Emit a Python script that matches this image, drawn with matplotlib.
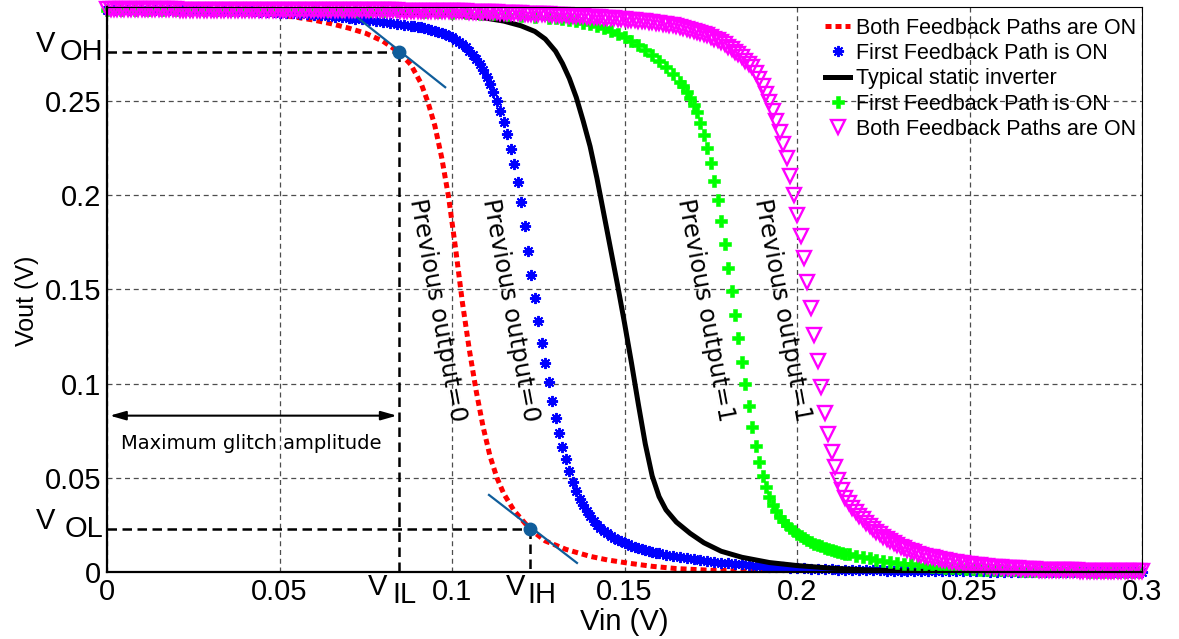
import numpy as np
import matplotlib.pyplot as plt

SANS = 'Liberation Sans'

# switching points
v_il, v_ih = 0.0846, 0.1226
v_oh, v_ol = 0.276, 0.0228

# both feedback paths ON, previous output = 0 (red dotted)
red_vin = [0.000, 0.010, 0.020, 0.030, 0.040, 0.045, 0.050, 0.055, 0.060, 0.065,
           0.070, 0.075, 0.080, 0.0846, 0.088, 0.091, 0.093, 0.095, 0.097, 0.099,
           0.101, 0.103, 0.105, 0.107, 0.109, 0.111, 0.113, 0.115, 0.118, 0.1226,
           0.127, 0.133, 0.140, 0.145, 0.151, 0.158, 0.165, 0.175, 0.190, 0.220, 0.300]
red_vout = [0.2990, 0.2989, 0.2986, 0.2981, 0.2973, 0.2966, 0.2957, 0.2945, 0.2930, 0.2911,
            0.2888, 0.2860, 0.2818, 0.2760, 0.2695, 0.2595, 0.2495, 0.2370, 0.2200, 0.1990,
            0.1720, 0.1430, 0.1180, 0.0960, 0.0770, 0.0615, 0.0500, 0.0415, 0.0325, 0.0228,
            0.0165, 0.0120, 0.0083, 0.0064, 0.0047, 0.0030, 0.0018, 0.0009, 0.0004, 0.0001, 0.0000]

# first feedback path ON, previous output = 0 (blue stars)
blue_vin = np.concatenate([np.linspace(0, 0.086, 44), np.linspace(0.088, 0.160, 73),
                           np.linspace(0.162, 0.300, 70)])
blue_vout = [
    0.2985, 0.2985, 0.2985, 0.2985, 0.2985, 0.2985, 0.2984, 0.2984, 0.2984, 0.2984,
    0.2983, 0.2983, 0.2983, 0.2982, 0.2982, 0.2981, 0.2981, 0.2980, 0.2979, 0.2978,
    0.2977, 0.2976, 0.2975, 0.2973, 0.2972, 0.2970, 0.2968, 0.2966, 0.2964, 0.2961,
    0.2958, 0.2955, 0.2952, 0.2949, 0.2946, 0.2942, 0.2938, 0.2934, 0.2930, 0.2926,
    0.2921, 0.2916, 0.2911, 0.2906,
    0.2900, 0.2897, 0.2894, 0.2891, 0.2887, 0.2883, 0.2879, 0.2874, 0.2868, 0.2862,
    0.2855, 0.2847, 0.2838, 0.2827, 0.2815, 0.2801, 0.2785, 0.2767, 0.2746, 0.2722,
    0.2695, 0.2664, 0.2630, 0.2592, 0.2550, 0.2503, 0.2450, 0.2390, 0.2323, 0.2248,
    0.2165, 0.2070, 0.1965, 0.1835, 0.1705, 0.1578, 0.1453, 0.1333, 0.1218, 0.1110,
    0.1007, 0.0910, 0.0820, 0.0738, 0.0663, 0.0598, 0.0535, 0.0480, 0.0432, 0.0390,
    0.0353, 0.0322, 0.0295, 0.0272, 0.0252, 0.0234, 0.0219, 0.0205, 0.0193, 0.0182,
    0.0172, 0.0163, 0.0155, 0.0147, 0.0140, 0.0134, 0.0128, 0.0122, 0.0117, 0.0112,
    0.0107, 0.0103, 0.0099,
    0.0092, 0.0085, 0.0079, 0.0073, 0.0068, 0.0063, 0.0058, 0.0054, 0.0050, 0.0046,
    0.0043, 0.0040, 0.0037, 0.0034, 0.0031, 0.0029, 0.0027, 0.0025, 0.0023, 0.0021,
    0.0019, 0.0018, 0.0016, 0.0015, 0.0014, 0.0013, 0.0012, 0.0011, 0.0010, 0.0009,
    0.0009, 0.0008, 0.0007, 0.0007, 0.0006, 0.0006, 0.0005, 0.0005, 0.0005, 0.0004,
    0.0004, 0.0004, 0.0003, 0.0003, 0.0003, 0.0003, 0.0003, 0.0002, 0.0002, 0.0002,
    0.0002, 0.0002, 0.0002, 0.0002, 0.0001, 0.0001, 0.0001, 0.0001, 0.0001, 0.0001,
    0.0001, 0.0001, 0.0001, 0.0001, 0.0001, 0.0001, 0.0001, 0.0001, 0.0001, 0.0001]

# typical static inverter (black)
inv_vin = [0.000, 0.040, 0.070, 0.090, 0.100, 0.110, 0.115, 0.120, 0.124, 0.127,
           0.130, 0.132, 0.134, 0.136, 0.138, 0.140, 0.142, 0.144, 0.146, 0.148,
           0.150, 0.152, 0.154, 0.156, 0.158, 0.160, 0.162, 0.165, 0.169, 0.173,
           0.178, 0.184, 0.192, 0.200, 0.210, 0.220, 0.235, 0.260, 0.300]
inv_vout = [0.2990, 0.2987, 0.2980, 0.2968, 0.2958, 0.2940, 0.2925, 0.2900, 0.2870, 0.2830,
            0.2765, 0.2700, 0.2620, 0.2520, 0.2395, 0.2260, 0.2090, 0.1900, 0.1710, 0.1520,
            0.1320, 0.1110, 0.0890, 0.0680, 0.0510, 0.0400, 0.0330, 0.0265, 0.0205, 0.0155,
            0.0110, 0.0078, 0.0050, 0.0034, 0.0020, 0.0011, 0.0004, 0.0001, 0.0000]

# first feedback path ON, previous output = 1 (green plus)
green_vin = np.concatenate([np.linspace(0, 0.128, 33), np.linspace(0.130, 0.166, 19),
                            np.linspace(0.167, 0.215, 49), np.linspace(0.217, 0.299, 42)])
green_vout = [
    0.2985, 0.2985, 0.2985, 0.2985, 0.2985, 0.2985, 0.2985, 0.2984, 0.2984, 0.2984,
    0.2984, 0.2983, 0.2983, 0.2983, 0.2982, 0.2982, 0.2981, 0.2981, 0.2980, 0.2979,
    0.2978, 0.2977, 0.2976, 0.2974, 0.2972, 0.2970, 0.2967, 0.2964, 0.2961, 0.2957,
    0.2953, 0.2948, 0.2943,
    0.2940, 0.2935, 0.2929, 0.2923, 0.2916, 0.2908, 0.2898, 0.2886, 0.2872, 0.2857,
    0.2840, 0.2820, 0.2797, 0.2772, 0.2745, 0.2715, 0.2682, 0.2645, 0.2603,
    0.2578, 0.2550, 0.2518, 0.2482, 0.2440, 0.2385, 0.2320, 0.2250, 0.2170, 0.2078,
    0.1975, 0.1862, 0.1740, 0.1615, 0.1490, 0.1365, 0.1240, 0.1117, 0.0997, 0.0880,
    0.0770, 0.0670, 0.0583, 0.0510, 0.0450, 0.0400, 0.0358, 0.0323, 0.0294, 0.0270,
    0.0249, 0.0231, 0.0215, 0.0201, 0.0189, 0.0178, 0.0168, 0.0159, 0.0151, 0.0143,
    0.0136, 0.0129, 0.0123, 0.0117, 0.0112, 0.0107, 0.0102, 0.0098, 0.0094,
    0.0087, 0.0080, 0.0073, 0.0066, 0.0060, 0.0054, 0.0049, 0.0044, 0.0040, 0.0036,
    0.0032, 0.0029, 0.0026, 0.0023, 0.0021, 0.0019, 0.0017, 0.0015, 0.0013, 0.0012,
    0.0011, 0.0010, 0.0009, 0.0008, 0.0007, 0.0006, 0.0006, 0.0005, 0.0005, 0.0004,
    0.0004, 0.0003, 0.0003, 0.0003, 0.0002, 0.0002, 0.0002, 0.0002, 0.0001, 0.0001,
    0.0001, 0.0001]

# both feedback paths ON, previous output = 1 (magenta triangles), 1 mV steps
mag_vin = np.linspace(0, 0.300, 301)
mag_vout = [
    0.2987, 0.2987, 0.2987, 0.2987, 0.2987, 0.2987, 0.2987, 0.2987, 0.2987, 0.2987,
    0.2987, 0.2987, 0.2987, 0.2987, 0.2987, 0.2987, 0.2987, 0.2987, 0.2987, 0.2987,
    0.2987, 0.2986, 0.2986, 0.2986, 0.2986, 0.2986, 0.2986, 0.2986, 0.2986, 0.2986,
    0.2986, 0.2986, 0.2986, 0.2986, 0.2986, 0.2986, 0.2986, 0.2986, 0.2986, 0.2986,
    0.2986, 0.2985, 0.2985, 0.2985, 0.2985, 0.2985, 0.2985, 0.2985, 0.2985, 0.2985,
    0.2985, 0.2985, 0.2985, 0.2985, 0.2985, 0.2985, 0.2985, 0.2984, 0.2984, 0.2984,
    0.2984, 0.2984, 0.2984, 0.2984, 0.2984, 0.2984, 0.2984, 0.2984, 0.2984, 0.2983,
    0.2983, 0.2983, 0.2983, 0.2983, 0.2983, 0.2983, 0.2983, 0.2982, 0.2982, 0.2982,
    0.2982, 0.2982, 0.2982, 0.2982, 0.2982, 0.2981, 0.2981, 0.2981, 0.2981, 0.2981,
    0.2980, 0.2980, 0.2980, 0.2980, 0.2979, 0.2979, 0.2979, 0.2978, 0.2978, 0.2978,
    0.2977, 0.2977, 0.2977, 0.2976, 0.2976, 0.2975, 0.2975, 0.2974, 0.2974, 0.2973,
    0.2973, 0.2972, 0.2972, 0.2971, 0.2970, 0.2970, 0.2969, 0.2968, 0.2967, 0.2967,
    0.2966, 0.2965, 0.2964, 0.2964, 0.2963, 0.2962, 0.2961, 0.2960, 0.2960, 0.2959,
    0.2958, 0.2957, 0.2956, 0.2955, 0.2954, 0.2953, 0.2952, 0.2951, 0.2950, 0.2949,
    0.2948, 0.2947, 0.2946, 0.2945, 0.2944, 0.2942, 0.2941, 0.2940, 0.2938, 0.2937,
    0.2935, 0.2933, 0.2932, 0.2930, 0.2928, 0.2926, 0.2924, 0.2922, 0.2919, 0.2917,
    0.2914, 0.2911, 0.2908, 0.2905, 0.2902, 0.2898, 0.2894, 0.2890, 0.2885, 0.2880,
    0.2875, 0.2869, 0.2863, 0.2856, 0.2849, 0.2841, 0.2832, 0.2823, 0.2813, 0.2802,
    0.2790, 0.2777, 0.2763, 0.2748, 0.2732, 0.2715, 0.2698, 0.2680, 0.2650, 0.2617,
    0.2580, 0.2540, 0.2497, 0.2450, 0.2395, 0.2335, 0.2272, 0.2200, 0.2100, 0.2000,
    0.1895, 0.1782, 0.1665, 0.1538, 0.1400, 0.1260, 0.1120, 0.0980, 0.0845, 0.0730,
    0.0635, 0.0557, 0.0490, 0.0435, 0.0395, 0.0365, 0.0340, 0.0318, 0.0298, 0.0279,
    0.0261, 0.0244, 0.0228, 0.0213, 0.0199, 0.0186, 0.0174, 0.0163, 0.0153, 0.0143,
    0.0134, 0.0126, 0.0118, 0.0111, 0.0104, 0.0098, 0.0092, 0.0087, 0.0082, 0.0077,
    0.0073, 0.0069, 0.0065, 0.0061, 0.0058, 0.0055, 0.0052, 0.0049, 0.0046, 0.0044,
    0.0041, 0.0039, 0.0037, 0.0035, 0.0033, 0.0031, 0.0029, 0.0028, 0.0026, 0.0025,
    0.0023, 0.0022, 0.0021, 0.0020, 0.0019, 0.0018, 0.0017, 0.0016, 0.0015, 0.0014,
    0.0013, 0.0013, 0.0012, 0.0012, 0.0011, 0.0011, 0.0010, 0.0010, 0.0009, 0.0009,
    0.0008, 0.0008, 0.0007, 0.0007, 0.0006, 0.0006, 0.0006, 0.0005, 0.0005, 0.0005,
    0.0005, 0.0004, 0.0004, 0.0004, 0.0004, 0.0003, 0.0003, 0.0003, 0.0003, 0.0003,
    0.0003]

assert len(blue_vin) == len(blue_vout)
assert len(green_vin) == len(green_vout)
assert len(mag_vin) == len(mag_vout)

# tangent lines at V_IL / V_IH
tan1_vin, tan1_vout = [0.0728, 0.0980], [0.2940, 0.2574]
tan2_vin, tan2_vout = [0.1107, 0.1362], [0.0409, 0.0048]

x_ticks = [0, 0.05, 0.1, 0.15, 0.2, 0.25, 0.3]
x_ticklabels = ['0', '0.05', '0.1', '0.15', '0.2', '0.25', '0.3']
y_ticks = [0, 0.05, 0.1, 0.15, 0.2, 0.25]
y_ticklabels = ['0', '0.05', '0.1', '0.15', '0.2', '0.25']

prev_texts = ['Previous output=0', 'Previous output=0', 'Previous output=1', 'Previous output=1']
prev_x = [0.0958, 0.1170, 0.1733, 0.1957]
prev_y = 0.139

fig = plt.figure(figsize=(11.79, 6.39), dpi=100)
ax = fig.add_axes([0.0908, 0.1049, 0.8779, 0.8842])

ax.plot(red_vin, red_vout, color='#ff0000', lw=3.6, ls=(0, (1.2, 0.8)),
        label='Both Feedback Paths are ON')
ax.plot(blue_vin, blue_vout, ls='none', marker=(8, 2, 0), ms=8, mew=1.4,
        color='#0000ff', clip_on=False, label='First Feedback Path is ON')
ax.plot(inv_vin, inv_vout, color='black', lw=3.6, label='Typical static inverter')
ax.plot(green_vin, green_vout, ls='none', marker='P', ms=8.5, mew=0.4,
        color='#00ff00', clip_on=False, label='First Feedback Path is ON')
ax.plot(mag_vin, mag_vout, ls='none', marker='v', ms=10.5, mew=1.7, mfc='none',
        mec='#ff00ff', clip_on=False, label='Both Feedback Paths are ON')

# V_OH / V_OL / V_IL / V_IH guides
dash = dict(color='black', lw=1.8, ls=(0, (3.8, 2.2)))
ax.plot([0, v_il], [v_oh, v_oh], **dash)
ax.plot([v_il, v_il], [v_oh, 0], **dash)
ax.plot([0, v_ih], [v_ol, v_ol], **dash)
ax.plot([v_ih, v_ih], [v_ol, 0], **dash)

tan_col = '#0f5d9b'
ax.plot(tan1_vin, tan1_vout, color=tan_col, lw=1.6)
ax.plot(tan2_vin, tan2_vout, color=tan_col, lw=1.6)
ax.plot([v_il, v_ih], [v_oh, v_ol], ls='none', marker='o', ms=9, color=tan_col)

# glitch amplitude arrow
ax.annotate('', xy=(0.0008, 0.083), xytext=(v_il - 0.0006, 0.083),
            arrowprops=dict(arrowstyle='<|-|>,head_length=0.95,head_width=0.27',
                            color='black', lw=1.5, shrinkA=0, shrinkB=0))
ax.text(0.0419, 0.0653, 'Maximum glitch amplitude', fontsize=14,
        family='DejaVu Sans', ha='center', va='baseline')

for t, x in zip(prev_texts, prev_x):
    ax.text(x, prev_y, t, fontsize=17.5, family='DejaVu Sans', rotation=-79.5,
            rotation_mode='anchor', ha='center', va='center')

ax.set_xlim(0, 0.3)
ax.set_ylim(0, 0.3)
ax.set_xticks(x_ticks)
ax.set_xticklabels(x_ticklabels)
ax.set_yticks(y_ticks)
ax.set_yticklabels(y_ticklabels)
ax.tick_params(length=0, labelsize=21, pad=4)
for lab in ax.get_xticklabels() + ax.get_yticklabels():
    lab.set_family(SANS)
ax.grid(True, color='0.3', lw=0.9, ls=(0, (4, 3)))
ax.set_axisbelow(True)
for side in ['left', 'bottom']:
    ax.spines[side].set_linewidth(1.6)
for side in ['top', 'right']:
    ax.spines[side].set_linewidth(0.8)

# custom tick labels for V_OH, V_OL, V_IL, V_IH
ytr = ax.get_yaxis_transform()
xtr = ax.get_xaxis_transform()
lab_kw = dict(fontsize=21, family=SANS, textcoords='offset pixels', va='center')
for yv, sub in [(v_oh, 'OH'), (v_ol, 'OL')]:
    ax.annotate('V', xy=(0, yv), xycoords=ytr, xytext=(-52, 8), ha='right', **lab_kw)
    ax.annotate(sub, xy=(0, yv), xycoords=ytr, xytext=(-4, 0), ha='right', **lab_kw)
ax.annotate('V', xy=(v_il, 0), xycoords=xtr, xytext=(-12, -15), ha='right', **lab_kw)
ax.annotate('IL', xy=(v_il, 0), xycoords=xtr, xytext=(-7, -23), ha='left', **lab_kw)
ax.annotate('V', xy=(v_ih, 0), xycoords=xtr, xytext=(-5, -15), ha='right', **lab_kw)
ax.annotate('IH', xy=(v_ih, 0), xycoords=xtr, xytext=(-3, -23), ha='left', **lab_kw)

ax.set_xlabel('Vin (V)', fontsize=21, family=SANS)
ax.xaxis.set_label_coords(0.5, -0.063)
ax.set_ylabel('Vout (V)', fontsize=18, family=SANS)
ax.yaxis.set_label_coords(-0.066, 0.48)

ax.legend(loc='upper right', bbox_to_anchor=(1.005, 1.0), frameon=False,
          prop={'family': SANS, 'size': 15.5}, handlelength=1.15, handletextpad=0.3,
          labelspacing=0.2, borderaxespad=0.3, borderpad=0.2)

fig.savefig('out.png', dpi=100)
